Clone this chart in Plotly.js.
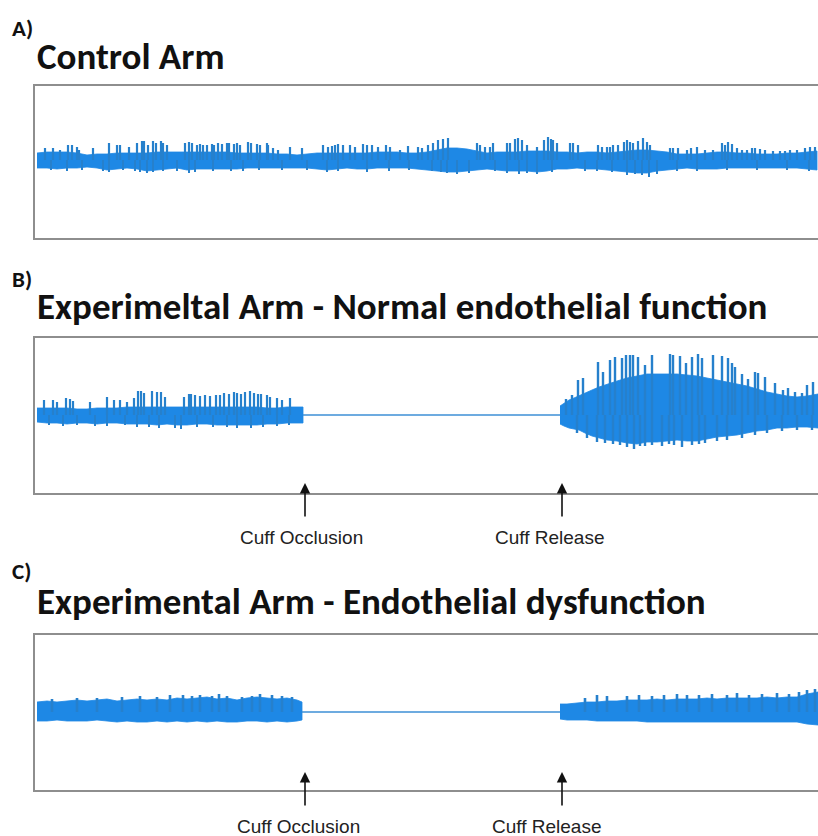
<!DOCTYPE html>
<html>
<head>
<meta charset="utf-8">
<script src="https://cdn.plot.ly/plotly-3.0.1.min.js"></script>
<style>html,body{margin:0;padding:0;background:#fff;}#chart{width:818px;height:836px;}</style>
</head>
<body>
<div id="chart"></div>
<script>
// ---------------- DATA (time in arbitrary sample units, amplitude in arbitrary units) -------------
// Panel A - Control arm: core envelope of the signal
const a_t      = [0,10,20,30,40,50,60,70,80,90,100,110,120,130,140,150,160,170,180,190,200,210,220,230,240,250,260,270,280,290,300,310,320,330,340,350,360,370,380,390,400,410,420,430,440,450,460,470,480,490,500,510,520,530,540,550,560,570,580,590,600,610,620,630,640,650,660,670,680,690,700,710,720,730,740,750,760,770,780];
const a_upper  = [7,8,8,8,7,5,6,6,7,7,7,7,8,8,8,8,8,8,8,8,7,7,7,7,6,6,5,6,7,7,7,7,7,7,8,8,8,7,7,8,10,12,12,11,9,7,8,8,8,9,9,9,8,8,7,8,8,7,8,9,10,10,9,8,6,6,6,7,8,8,7,7,6,6,6,7,7,8,9];
const a_lower  = [-8,-8,-9,-8,-8,-7,-8,-10,-9,-8,-9,-11,-10,-9,-8,-10,-9,-9,-9,-9,-9,-8,-8,-8,-8,-8,-8,-8,-9,-10,-9,-8,-9,-9,-8,-8,-8,-8,-9,-10,-11,-12,-12,-11,-10,-9,-10,-11,-11,-11,-12,-11,-9,-9,-8,-9,-9,-10,-11,-12,-13,-13,-11,-10,-9,-8,-9,-9,-9,-8,-8,-8,-8,-8,-8,-8,-8,-9,-10];
// Panel A - systolic peaks rising above the core
const a_peak_t   = [8,16,23,31,35,40,42,56,72,80,83,92,100,105,107,111,116,119,124,126,130,148,152,155,160,163,166,170,175,177,181,185,190,192,197,200,203,211,214,220,223,230,231,236,241,253,265,286,291,295,298,301,306,313,318,326,330,335,341,349,353,363,371,381,385,391,396,401,406,411,440,443,448,453,456,470,473,478,481,485,490,500,507,511,514,516,520,533,536,541,561,565,570,573,576,581,587,590,593,596,601,606,610,613,633,636,641,650,654,660,668,676,685,688,691,695,700,705,710,715,718,723,728,736,743,748,753,760,768,773,778];
const a_peak_amp = [12,12,10,15,15,13,10,12,17,15,15,13,17,19,19,15,19,17,19,17,15,17,18,17,15,16,15,15,16,15,17,16,17,17,16,17,15,18,17,16,15,17,15,12,10,13,12,15,13,14,15,16,15,15,13,16,15,15,13,15,13,10,14,13,12,15,17,20,21,22,17,15,13,13,17,17,17,21,22,20,15,13,20,23,21,20,17,17,17,15,15,13,13,13,15,15,18,20,18,17,19,22,18,15,12,12,12,10,12,13,10,10,17,15,18,16,12,10,10,12,12,11,10,9,9,9,10,10,12,13,13];
// Panel A - small troughs below the core
const a_dip_t    = [14,30,45,66,72,86,98,103,110,116,126,140,152,158,176,194,206,222,245,270,290,301,330,352,372,395,404,410,420,432,458,470,482,490,500,515,548,560,575,590,598,605,612,620,640,660,690,720,750,772];
const a_dip_amp  = [-10,-11,-10,-11,-12,-10,-11,-12,-13,-12,-11,-11,-13,-12,-11,-11,-11,-10,-10,-10,-12,-11,-12,-11,-10,-11,-12,-13,-14,-13,-11,-13,-14,-13,-14,-12,-11,-11,-12,-15,-14,-15,-17,-14,-11,-11,-10,-10,-10,-11];

// Panel B - Experimental arm, normal endothelial function
const b_pre_t      = [0,10,20,30,40,50,60,70,80,90,100,110,120,130,140,150,160,170,180,190,200,210,220,230,240,250,260,266];
const b_pre_upper  = [7,7,7,7,6,6,7,7,7,8,8,8,8,8,8,8,8,8,8,8,8,8,8,7,7,8,8,8];
const b_pre_lower  = [-7,-8,-8,-9,-8,-8,-9,-8,-8,-9,-9,-9,-10,-9,-10,-10,-9,-9,-10,-10,-10,-10,-10,-9,-9,-8,-8,-8];
const b_pre_peak_t   = [7,16,20,29,33,36,53,70,77,83,90,97,101,104,107,115,120,124,128,147,152,154,158,163,168,173,179,183,187,192,197,200,204,208,213,217,221,224,230,233,240,245,253];
const b_pre_peak_amp = [15,15,13,17,16,14,13,18,15,15,13,17,24,24,22,24,23,23,18,18,21,21,20,19,20,19,20,20,22,21,23,22,21,23,24,22,21,21,20,18,17,15,17];
const b_pre_dip_t    = [12,26,40,58,70,88,100,112,122,138,144,160,176,190,200,214,226,240,252];
const b_pre_dip_amp  = [-10,-11,-10,-11,-11,-10,-12,-12,-13,-13,-14,-12,-12,-12,-13,-13,-12,-11,-10];
const b_occ_t      = [266,523];          // cuff inflated: no flow signal
const b_occ_level  = [0,0];
const b_post_t     = [523,527,532,537,542,548,555,562,570,580,590,600,610,620,630,640,650,660,670,680,690,700,710,720,730,740,750,760,770,781];
const b_post_upper = [9,12,15,17,19,22,25,28,31,34,37,39,41,41,41,41,40,39,37,35,33,31,29,26,23,21,19,18,19,21];
const b_post_lower = [-9,-11,-13,-14,-15,-18,-21,-23,-25,-26,-28,-29,-27,-27,-26,-25,-26,-26,-24,-22,-21,-20,-18,-16,-15,-13,-13,-12,-12,-13];
const b_post_peak_t   = [529,535,541,546,561,566,573,578,585,589,593,596,601,608,615,633,636,643,649,655,661,665,676,685,691,695,698,705,711,718,721,728,738,746,751,758,765,770,776];
const b_post_peak_amp = [16,20,35,37,53,43,55,58,57,60,60,60,58,50,60,61,60,59,52,58,61,57,60,59,57,52,48,41,36,43,42,38,32,25,27,23,22,30,33];
const b_post_dip_t    = [540,550,560,568,576,583,590,597,603,608,615,625,632,637,645,655,662,668,680,690,705,718,730,745,760,775];
const b_post_dip_amp  = [-18,-23,-27,-28,-29,-30,-32,-34,-31,-31,-30,-31,-29,-30,-32,-30,-29,-28,-26,-25,-23,-20,-18,-16,-15,-15];

// Panel C - Experimental arm, endothelial dysfunction
const c_pre_t      = [0,10,20,30,40,50,60,70,80,90,100,110,120,130,140,150,160,170,180,190,200,210,220,230,240,250,260,265];
const c_pre_upper  = [10,11,10,11,12,11,12,13,11,12,13,12,13,12,14,13,14,15,13,14,12,14,15,14,13,14,12,10];
const c_pre_lower  = [-9,-9,-8,-9,-9,-9,-8,-9,-10,-9,-10,-10,-9,-10,-9,-10,-9,-10,-9,-10,-10,-9,-9,-10,-9,-10,-9,-8];
const c_pre_peak_t   = [15,40,60,85,103,120,133,146,155,163,175,182,190,205,215,223,235,245,255];
const c_pre_peak_amp = [13,14,14,15,16,15,17,17,16,17,16,18,16,15,16,18,17,16,15];
const c_occ_t      = [265,523];
const c_occ_level  = [0,0];
const c_post_t     = [523,530,540,550,560,570,580,590,600,610,620,630,640,650,660,670,680,690,700,710,720,730,740,750,760,770,781];
const c_post_upper = [8,8,9,10,10,11,11,12,12,12,13,12,13,13,13,14,13,14,14,14,14,15,14,15,15,18,20];
const c_post_lower = [-7,-8,-8,-8,-9,-9,-9,-9,-9,-10,-10,-10,-10,-10,-10,-10,-10,-10,-10,-10,-10,-10,-10,-10,-10,-12,-13];
const c_post_peak_t   = [548,560,570,590,602,615,627,640,650,662,675,690,700,712,725,740,752,762,770,778];
const c_post_peak_amp = [14,17,16,16,17,16,17,18,17,17,18,17,19,17,18,19,18,20,22,23];

// Event markers and text
const event_t      = [268,525];
const event_labels = ['Cuff Occlusion','Cuff Release'];
const panel_letters = ['A)','B)','C)'];
const panel_titles  = ['Control Arm','Experimeltal Arm - Normal endothelial function','Experimental Arm - Endothelial dysfunction'];

// ---------------- DRAWING -------------
const W = 818, H = 836;
const BLUE = '#1E88E5', SPIKE = '#2680cc';
const py = p => 1 - p / H;

function band(t, up, lo, ax) {
  return {x: t.concat(t.slice().reverse()), y: up.concat(lo.slice().reverse()),
    xaxis: ax[0], yaxis: ax[1], type: 'scatter', mode: 'lines', fill: 'toself',
    fillcolor: BLUE, line: {width: 0.8, color: BLUE}, hoverinfo: 'skip'};
}
function sticks(t, amp, ax, w) {
  const x = [], y = [];
  t.forEach((v, i) => { x.push(v, v, null); y.push(0, amp[i], null); });
  return {x, y, xaxis: ax[0], yaxis: ax[1], type: 'scatter', mode: 'lines',
    line: {width: w || 2.2, color: SPIKE}, hoverinfo: 'skip'};
}
function flat(t, lvl, ax) {
  return {x: t, y: lvl, xaxis: ax[0], yaxis: ax[1], type: 'scatter', mode: 'lines',
    line: {width: 1.6, color: '#3d8fd6'}, hoverinfo: 'skip'};
}
const A = ['x', 'y'], B = ['x2', 'y2'], C = ['x3', 'y3'];
const traces = [
  band(a_t, a_upper, a_lower, A), sticks(a_peak_t, a_peak_amp, A), sticks(a_dip_t, a_dip_amp, A, 2),
  band(b_pre_t, b_pre_upper, b_pre_lower, B), sticks(b_pre_peak_t, b_pre_peak_amp, B), sticks(b_pre_dip_t, b_pre_dip_amp, B, 2),
  flat(b_occ_t, b_occ_level, B),
  band(b_post_t, b_post_upper, b_post_lower, B), sticks(b_post_peak_t, b_post_peak_amp, B, 2.4), sticks(b_post_dip_t, b_post_dip_amp, B, 2.4),
  band(c_pre_t, c_pre_upper, c_pre_lower, C), sticks(c_pre_peak_t, c_pre_peak_amp, C, 2.6),
  flat(c_occ_t, c_occ_level, C),
  band(c_post_t, c_post_upper, c_post_lower, C), sticks(c_post_peak_t, c_post_peak_amp, C, 2.6)
];

const LINE = '#8e8e8e';
function xa(anchor) {
  return {domain: [35 / W, 1], range: [-2, 781], anchor, showline: true, mirror: true, linecolor: LINE, linewidth: 2,
    showgrid: false, zeroline: false, showticklabels: false, ticks: '', fixedrange: true};
}
function ya(anchor, top, bottom, rng) {
  return {domain: [py(bottom), py(top)], range: rng, anchor, showline: true, mirror: false, linecolor: LINE, linewidth: 2,
    showgrid: false, zeroline: false, showticklabels: false, ticks: '', fixedrange: true};
}

const TFONT = 'Carlito, Calibri, Lato, sans-serif';
const annotations = [];
const letterY = [28, 279, 571];
const titleY = [57, 306, 601];
for (let i = 0; i < 3; i++) {
  annotations.push({xref: 'paper', yref: 'paper', x: 10 / W, y: py(letterY[i]), xanchor: 'left', yanchor: 'middle',
    text: '<b>' + panel_letters[i] + '</b>', showarrow: false, font: {family: TFONT, size: 23, color: '#111'}});
  annotations.push({xref: 'paper', yref: 'paper', x: 35 / W, y: py(titleY[i]), xanchor: 'left', yanchor: 'middle',
    text: '<b>' + panel_titles[i] + '</b>', showarrow: false, font: {family: TFONT, size: 37, color: '#111'}});
}
const arrowTip = [483, 772], labelY = [537, 826], labelShift = [-4, -12];
[['x2', 0], ['x3', 1]].forEach(([xr, k]) => {
  event_t.forEach((t, j) => {
    annotations.push({xref: xr, yref: 'paper', x: t, y: py(arrowTip[k]), text: '', showarrow: true,
      ax: 0, ay: 35, axref: 'pixel', ayref: 'pixel', arrowhead: 2, arrowsize: 1.3, arrowwidth: 1.6, arrowcolor: '#111', standoff: 0});
    annotations.push({xref: xr, yref: 'paper', x: t, y: py(labelY[k]), xanchor: 'center', yanchor: 'middle', xshift: labelShift[j] + (k === 1 ? -3 : 0),
      text: event_labels[j], showarrow: false, font: {family: 'Liberation Sans, Arial, sans-serif', size: 19, color: '#222'}});
  });
});

const layout = {
  width: W, height: H, margin: {l: 0, r: 0, t: 0, b: 0}, paper_bgcolor: '#fff', plot_bgcolor: '#fff',
  showlegend: false,
  xaxis: xa('y'), yaxis: ya('x', 86, 238, [-78, 74]),
  xaxis2: xa('y2'), yaxis2: ya('x2', 338, 493, [-78, 77]),
  xaxis3: xa('y3'), yaxis3: ya('x3', 635, 790, [-78, 77]),
  annotations
};
Plotly.newPlot('chart', traces, layout, {staticPlot: true, displayModeBar: false});
</script>
</body>
</html>
